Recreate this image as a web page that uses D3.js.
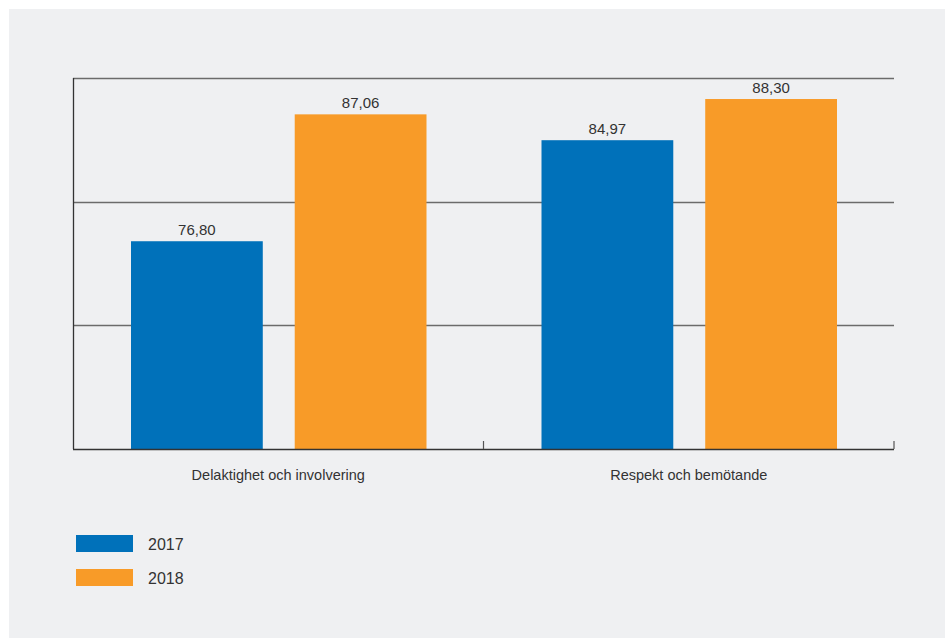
<!DOCTYPE html>
<html>
<head>
<meta charset="utf-8">
<script src="https://cdn.jsdelivr.net/npm/d3@7"></script>
<style>
  body { margin: 0; background: #ffffff; }
  svg text { font-family: "Liberation Sans", Arial, Helvetica, sans-serif; fill: #333333; }
</style>
</head>
<body>
<div id="chart"></div>
<script>
// data
const categories = ["Delaktighet och involvering", "Respekt och bemötande"]
const years = ["2017", "2018"]
const values2017 = [76.80, 84.97]
const values2018 = [87.06, 88.30]
const gridTicks = [60, 70, 80, 90]

const colors = ["#0071ba", "#f89b28"]

const dims = {
    width: 946,
    height: 638,
    margin: { top: 78, right: 52, bottom: 189, left: 73 }
}
dims.boundedWidth = dims.width - dims.margin.left - dims.margin.right
dims.boundedHeight = dims.height - dims.margin.top - dims.margin.bottom

const svg = d3.select("#chart").append("svg")
    .attr("width", dims.width)
    .attr("height", dims.height)

// grey panel
svg.append("rect")
    .attr("x", 9).attr("y", 9)
    .attr("width", 936).attr("height", 629)
    .attr("fill", "#eff0f2")

const bounds = svg.append("g")
    .attr("transform", `translate(${dims.margin.left},${dims.margin.top})`)

// scales
const xScale = d3.scaleBand()
    .domain(categories)
    .range([0, dims.boundedWidth])

const subScale = d3.scaleBand()
    .domain(years)
    .range([58, xScale.bandwidth() - 57])
    .paddingInner(32 / 164)

const yScale = d3.scaleLinear()
    .domain([60, 90])
    .range([dims.boundedHeight, 0])

// gridlines
bounds.append("g")
    .selectAll("line")
    .data(gridTicks.filter(d => d > 60))
    .join("line")
    .attr("x1", 0)
    .attr("x2", dims.boundedWidth)
    .attr("y1", d => Math.round(yScale(d)) + 0.5)
    .attr("y2", d => Math.round(yScale(d)) + 0.5)
    .attr("stroke", "#6b6b6b")
    .attr("stroke-width", 1.3)

// bars
const rows = categories.map((c, i) => ({ cat: c, vals: [values2017[i], values2018[i]] }))

const groups = bounds.selectAll("g.cat")
    .data(rows)
    .join("g")
    .attr("class", "cat")
    .attr("transform", d => `translate(${xScale(d.cat)},0)`)

groups.selectAll("rect")
    .data(d => d.vals.map((v, j) => ({ year: years[j], value: v, j })))
    .join("rect")
    .attr("x", d => subScale(d.year))
    .attr("width", subScale.bandwidth())
    .attr("y", d => yScale(d.value))
    .attr("height", d => dims.boundedHeight - yScale(d.value))
    .attr("fill", d => colors[d.j])

groups.selectAll("text.val")
    .data(d => d.vals.map((v, j) => ({ year: years[j], value: v })))
    .join("text")
    .attr("class", "val")
    .attr("x", d => subScale(d.year) + subScale.bandwidth() / 2)
    .attr("y", d => yScale(d.value) - 6)
    .attr("text-anchor", "middle")
    .style("font-size", "15px")
    .text(d => d3.format(".2f")(d.value).replace(".", ","))

// axes
const yAxisLine = bounds.append("line")
    .attr("x1", 0.5).attr("x2", 0.5)
    .attr("y1", 0).attr("y2", dims.boundedHeight)
    .attr("stroke", "#333333")
    .attr("stroke-width", 1.3)

const xAxis = bounds.append("g")
    .attr("transform", `translate(0,${dims.boundedHeight})`)

xAxis.append("line")
    .attr("x1", 0).attr("x2", dims.boundedWidth)
    .attr("y1", 0.5).attr("y2", 0.5)
    .attr("stroke", "#333333")
    .attr("stroke-width", 1.5)

xAxis.selectAll("line.tick")
    .data(categories)
    .join("line")
    .attr("class", "tick")
    .attr("x1", d => xScale(d) + xScale.bandwidth())
    .attr("x2", d => xScale(d) + xScale.bandwidth())
    .attr("y1", -8).attr("y2", 0)
    .attr("stroke", "#555555")
    .attr("stroke-width", 1.2)

xAxis.selectAll("text")
    .data(categories)
    .join("text")
    .attr("x", d => xScale(d) + xScale.bandwidth() / 2)
    .attr("y", 31)
    .attr("text-anchor", "middle")
    .style("font-size", "14.5px")
    .text(d => d)

// legend
const legend = svg.append("g")
    .attr("transform", "translate(76,535)")

const legendItems = legend.selectAll("g")
    .data(years)
    .join("g")
    .attr("transform", (d, i) => `translate(0,${i * 34})`)

legendItems.append("rect")
    .attr("width", 57)
    .attr("height", 17)
    .attr("fill", (d, i) => colors[i])

legendItems.append("text")
    .attr("x", 72)
    .attr("y", 14.5)
    .style("font-size", "16px")
    .text(d => d)
</script>
</body>
</html>
